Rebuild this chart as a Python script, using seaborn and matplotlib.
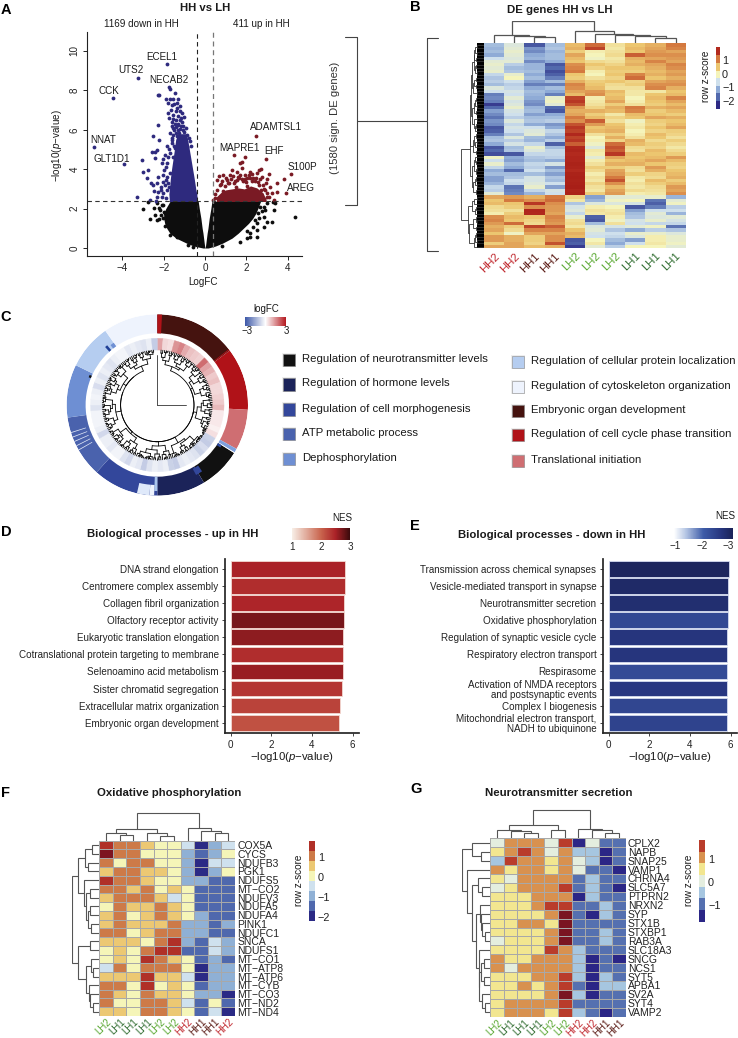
import numpy as np
import pandas as pd
import seaborn as sns
import matplotlib
matplotlib.use('Agg')
import matplotlib.pyplot as plt
from matplotlib.cm import ScalarMappable
from matplotlib.colors import BoundaryNorm, LinearSegmentedColormap, ListedColormap, Normalize
from matplotlib.patches import Rectangle

# ---- panel A: volcano, single points, dense parts as outlines ----
BLUE_X = [-1.82, -3.25, -4.43, -5.35, -3.91, -1.74, -1.71, -2.21, -2.29, -1.45, -1.91, -1.7, -1.53, -1.29, -1.81, -1.62,
          -1.37, -1.21, -1.78, -1.53, -1.13, -1.0, -1.42, -1.62, -1.21, -2.26, -2.5, -2.23, -2.31, -2.55, -2.42, -3.05,
          -2.42, -2.02, -2.08, -1.99, -2.78, -2.99, -2.83, -2.62, -2.34, -2.5, -2.26, -2.02, -2.13, -2.26, -2.02, -3.31,
          -2.67, -2.37, -1.86, -1.78, -1.7, -1.86, -1.7, -1.62, -1.7, -1.53, -1.29, -1.15, -1.4, -1.05, -1.25, -1.6,
          -1.35, -1.1, -0.95, -1.48, -1.3, -1.18, -0.85, -1.55, -1.45, -1.85, -1.75, -1.9,
          -1.5, -1.35, -1.65, -1.4, -1.2, -1.55, -1.72, -1.3, -1.1, -1.45, -1.6, -1.3, -1.05, -0.9, -1.5, -1.2, -1.0,
          -0.85, -0.8, -0.75, -0.7, -1.55, -1.42, -1.6, -1.85, -1.75, -1.8, -1.95, -1.9, -2.05, -1.95, -2.15, -2.1,
          -1.9, -2.3, -2.45]
BLUE_Y = [9.32, 8.61, 7.63, 5.11, 4.25, 8.16, 8.05, 7.78, 7.75, 7.87, 7.55, 7.55, 7.58, 7.56, 7.34, 7.26,
          7.38, 7.21, 6.84, 6.75, 6.84, 6.67, 6.5, 6.41, 6.5, 6.24, 5.69, 5.48, 4.97, 4.89, 4.89, 4.45,
          4.55, 4.5, 4.3, 3.96, 3.96, 3.84, 3.54, 3.32, 3.32, 3.2, 3.62, 3.37, 2.94, 2.86, 2.77, 2.6,
          2.44, 2.39, 2.94, 3.28, 3.79, 4.3, 4.8, 5.31, 5.82, 6.07, 5.99, 6.2, 6.15, 6.0, 5.85, 5.6,
          5.7, 5.6, 5.55, 5.2, 6.3, 6.6, 5.1, 4.6, 5.05, 3.6, 3.1, 3.45,
          7.3, 7.1, 7.0, 6.95, 6.95, 6.55, 6.6, 6.7, 6.4, 6.3, 6.2, 6.25, 6.2, 6.1, 6.0, 6.05, 5.9,
          5.75, 5.6, 5.45, 5.2, 5.75, 5.85, 5.5, 5.2, 5.0, 4.6, 4.7, 4.1, 3.7, 3.2, 3.1, 2.6,
          2.55, 2.6, 2.9]
RED_X = [2.47, 1.39, 1.92, 2.94, 4.15, 3.81, 3.46, 3.91, 3.46, 3.25, 3.07, 2.71, 2.63, 1.78, 1.7, 1.29, 1.53, 1.78,
         2.18, 2.5, 2.75, 2.99, 3.15, 2.91, 0.65, 0.89, 1.21, 0.57, 1.37, 1.94, 2.34, 2.99, 2.83, 3.31, 0.48, 0.4,
         1.05, 1.6, 2.05, 2.28, 1.15, 0.75, 1.45, 1.85, 2.6, 2.4, 2.1, 1.65, 0.95, 2.7,
         0.7, 1.0, 1.1, 1.25, 1.4, 1.55, 1.7, 1.8, 1.95, 2.0, 2.15, 2.25, 2.45, 2.55, 2.65, 2.8, 2.85, 3.0, 3.1, 0.6,
         0.85, 0.5, 2.95, 1.5, 2.05, 0.8]
RED_Y = [5.7, 4.74, 4.64, 4.53, 3.77, 3.52, 3.28, 2.77, 2.86, 2.77, 3.76, 3.99, 3.96, 4.35, 4.3, 3.96, 3.87, 4.04,
         3.84, 3.79, 3.62, 3.49, 3.11, 2.94, 3.65, 3.71, 3.71, 3.45, 3.65, 3.71, 3.54, 2.6, 2.49, 2.44, 2.52, 2.44,
         3.45, 3.6, 3.55, 3.75, 3.3, 3.25, 3.4, 3.38, 3.2, 3.4, 3.7, 3.55, 3.15, 2.95,
         3.2, 3.55, 3.3, 3.5, 3.3, 3.45, 3.7, 3.5, 3.5, 3.35, 3.55, 3.4, 3.55, 3.35, 3.5, 3.2, 3.0, 2.8, 2.6, 2.95,
         2.9, 2.75, 3.3, 3.1, 3.15, 3.4]
BLACK_X = [4.36, 3.31, 3.39, 3.28, 2.83, 2.99, 3.23, 2.83, 2.5, 2.02, 1.7, 0.81, -2.99, -2.42, -2.21, -2.67, -2.34, -1.86,
           -1.94, -2.18, -2.47, -2.34, -2.1, -2.75, -1.7, -1.37, -1.53, -0.81, -0.57, 2.5, 2.5, 2.18, 2.58, 2.67, 2.99, 2.91, 2.18,
           2.75, 2.85, 2.4, 2.62, 2.3, 2.05, -2.05, -2.0, -2.15, -1.95, -2.25, -2.05]
BLACK_Y = [1.59, 1.93, 2.27, 2.32, 1.59, 1.34, 1.34, 1.08, 0.58, 0.49, 0.32, 0.1, 1.96, 1.68, 1.47, 1.47, 1.42, 1.34,
           1.76, 1.93, 2.01, 2.27, 2.18, 2.35, 0.66, 0.58, 0.74, 0.15, 0.07, 1.25, 0.91, 0.74, 1.76, 2.1, 2.27, 1.93, 0.58,
           1.9, 2.1, 1.4, 1.5, 1.05, 0.85, 2.2, 1.85, 1.65, 1.1, 2.05, 1.5]
MASS_Y = [0, 0.1, 0.25, 0.5, 0.75, 1, 1.25, 1.5, 1.75, 2, 2.36]
BLACK_LEFT = [-0.1, -0.55, -0.9, -1.4, -1.7, -1.85, -1.95, -2.0, -2.0, -1.9, -1.7]
BLACK_INNER_L = [0, -0.02, -0.04, -0.07, -0.1, -0.14, -0.17, -0.2, -0.24, -0.28, -0.33]
BLACK_INNER_R = [0, 0.02, 0.04, 0.07, 0.1, 0.14, 0.17, 0.2, 0.24, 0.28, 0.33]
BLACK_RIGHT = [0.15, 0.5, 0.85, 1.3, 1.6, 1.85, 2.1, 2.3, 2.45, 2.55, 2.68]
BLUE_MASS_Y = [2.36, 2.75, 3, 3.5, 4, 4.5, 5, 5.5, 5.8]
BLUE_MASS_L = [-1.72, -1.75, -1.72, -1.68, -1.62, -1.55, -1.48, -1.42, -1.3]
BLUE_MASS_R = [-0.37, -0.4, -0.45, -0.52, -0.6, -0.68, -0.76, -0.84, -0.9]
RED_MASS_X = [0.55, 0.8, 1.0, 1.3, 1.6, 1.9, 2.2, 2.5, 2.8, 2.95]
RED_MASS_TOP = [2.6, 2.85, 2.95, 3.0, 3.05, 3.0, 3.15, 3.05, 2.8, 2.45]
GENE_NAMES = ['ECEL1', 'UTS2', 'NECAB2', 'CCK', 'NNAT', 'GLT1D1', 'ADAMTSL1', 'MAPRE1', 'EHF', 'S100P', 'AREG']
GENE_X = [-2.1, -3.59, -1.76, -4.67, -4.93, -4.52, 3.44, 1.65, 3.34, 4.7, 4.62]
GENE_Y = [9.68, 9.05, 8.51, 7.97, 5.5, 4.53, 6.14, 5.08, 4.91, 4.13, 3.06]

# ---- panel B: row z-scores, groups of rows from the picture ----
B_SAMPLES = ['HH2', 'HH2', 'HH1', 'HH1', 'LH2', 'LH2', 'LH2', 'LH1', 'LH1', 'LH1']
B_Z = [
    [-1.0, -.4, -2.0, -1.0, .8, 1.5, .3, .7, .9, 1.4],
    [-1.1, -.3, -1.4, -.9, .9, 1.8, .2, .8, 1.0, 1.3],
    [-1.0, -.2, -1.5, -1.1, .6, .1, .3, .7, 1.1, 1.0],
    [-1.2, -.3, -1.2, -1.0, 1.0, .0, .4, 1.6, 1.2, 1.2],
    [-.6, -.4, -1.1, -1.0, .8, -.1, .2, .9, 1.0, 1.1],
    [-.3, -.3, -1.5, -1.2, .7, .4, .3, .8, 1.3, 1.0],
    [-.2, -.8, -1.1, -2.0, 1.2, .7, .5, .9, 1.0, 1.3],
    [-.3, -1.0, -1.1, -1.8, 1.3, .5, .7, .7, .9, 1.2],
    [-.2, -.9, -1.0, -2.1, 1.4, .1, .6, .6, .8, 1.0],
    [-.7, -.2, -1.2, -1.9, .7, .0, .7, 1.3, .9, 1.1],
    [-.9, 0, -1.0, -1.6, .6, .3, .5, 1.5, .7, .9],
    [-.8, -.6, -1.3, -1.0, .9, .6, .7, .5, 1.0, 1.1],
    [-1.0, -.8, -1.6, -1.6, 1.3, .7, .4, .6, 1.2, 1.2],
    [-.4, -.7, -1.2, -1.0, 1.2, .8, .3, .3, 1.3, .9],
    [-.6, -.5, -1.0, -1.2, 1.0, 1.1, .8, .2, .2, .7],
    [-1.6, -.6, -1.1, -1.6, .8, 1.2, .7, .2, .7, .8],
    [-1.5, -.3, -1.2, -.2, 1.8, .1, .8, 0, .8, 1.3],
    [-1.6, -.5, -1.4, -.1, 1.9, .2, 1.0, .1, .7, 1.0],
    [-2.3, -.4, -1.5, -.3, 1.7, .3, .6, .3, .6, .8],
    [-1.8, -.2, -1.1, -1.8, 1.1, .5, .9, 1.4, .9, 1.0],
    [-1.3, -.5, -1.0, -2.0, .9, .9, .8, 1.3, .6, .8],
    [-1.5, -.6, -1.3, -1.2, 1.0, .6, .2, .8, .7, .6],
    [-1.7, -.8, -1.0, -1.0, 1.4, .8, .5, .7, 1.0, .9],
    [-1.4, -.4, -.9, -.8, 1.2, 1.6, .3, -.1, .6, .7],
    [-1.5, -.7, -1.2, -1.4, 1.7, 1.1, .7, .1, .5, .8],
    [-2.0, -.5, -.6, -1.2, 1.9, .7, .8, .2, .7, 1.0],
    [-1.9, -.6, -.4, -.7, 1.8, .8, .9, .0, .5, .6],
    [-1.6, -.9, -.3, -.9, 2.1, .3, .6, .1, .8, .5],
    [-1.0, -.4, -1.0, -1.2, 1.8, .0, .9, .3, .7, .3],
    [-.9, -.8, -1.1, -.8, 1.9, .1, .5, .9, .4, .6],
    [-1.2, -.5, -.7, -1.9, 1.6, -.1, 1.5, .8, .6, .4],
    [-2.0, -1.0, -.2, -1.0, 2.1, -.4, 1.7, .4, .5, .2],
    [-1.8, -.9, -.4, -.7, 2.3, .2, 1.6, .3, .8, .4],
    [-2.1, -2.0, -.7, -.7, 2.0, .1, 1.9, .8, .7, .6],
    [-.1, -1.2, -.9, -.8, 2.2, -.3, 1.0, .7, .8, 1.1],
    [-.6, -1.3, -1.0, -1.2, 2.2, .1, .7, .8, 1.0, .8],
    [-.2, -1.0, -.7, -.5, 2.4, .3, .9, .9, .7, .6],
    [-.7, -1.2, -.8, -1.4, 2.3, .6, .6, .4, 1.1, .5],
    [-1.2, -1.8, -.6, -1.0, 2.0, .4, 1.0, .3, .9, .7],
    [-1.0, -1.0, -1.0, -1.3, 2.4, .1, 1.1, .6, .5, .8],
    [-1.3, -.9, -.5, -.9, 2.5, .3, 1.4, .2, .4, .9],
    [-1.3, -.6, -.5, -1.0, 2.4, .2, 1.7, .1, .8, .6],
    [-1.1, -.7, -.4, -.6, 2.5, .5, 1.2, .3, .6, .8],
    [-.7, -1.7, -.2, -1.3, 2.6, .3, .8, .2, .4, 1.1],
    [-.8, -1.6, -.7, -.5, 2.3, .2, 1.0, .4, .3, 1.0],
    [-.3, -1.5, -1.1, -.6, 2.4, .6, 1.1, .1, .2, 1.2],
    [1.0, 1.1, .9, 1.4, .5, -1.3, -.3, -.3, -.2, -1.1],
    [.7, 1.4, 1.2, 1.5, .2, -1.1, -.1, .0, -1.7, -.3],
    [.8, .7, 1.9, 1.2, -.9, -.4, -.4, -.5, -1.9, -.1],
    [.4, .6, 1.2, 1.1, -.5, .1, .0, -2.0, -1.6, -.8],
    [.3, .3, 2.2, 1.1, -.4, .3, .2, -1.3, -.6, -.6],
    [.1, .6, 2.1, 1.0, -.7, .2, .3, -1.0, -.3, -1.1],
    [1.2, .8, .7, 1.3, -.2, -1.9, .1, -.9, -.4, -.3],
    [1.3, .7, .5, 1.2, .3, -2.0, -.1, -.5, -.2, -.5],
    [1.1, 1.5, .4, 1.1, .4, -1.0, .3, -.6, -.7, -.7],
    [.9, .6, 1.8, 1.6, .2, -.4, -.5, -.3, -.1, -1.7],
    [1.0, .4, 1.3, 1.3, .7, -.3, -.9, -1.2, -.8, -.9],
    [.7, -.1, 1.0, 1.0, .9, -.5, -.6, -.2, -.2, -.4],
    [1.1, .9, .6, 1.2, .8, -.6, -.7, -.4, .1, -.2],
    [1.1, .9, .6, 1.2, -2.0, .0, -1.0, -1.3, .1, -.2],
    [.6, 1.0, .5, 1.7, -1.9, .2, -1.2, -.6, .2, -.1],
    [1.0, 1.0, .8, .9, -2.3, -.3, -.8, .0, .0, -.3],
]
B_COL_GAPS = [25, 22, 18, 67, 38, 27, 25, 22, 16]
B_ROW_GAPS = [20, 28, 22, 30, 24, 32, 26, 28, 22, 36, 24, 30, 26, 34, 22, 40, 24, 28, 22, 30, 26, 38, 22, 30, 24,
              28, 42, 26, 30, 22, 28, 34, 24, 44, 28, 24, 30, 22, 26, 36, 24, 28, 22, 34, 26,
              70, 22, 30, 36, 24, 28, 48, 26, 22, 34, 26, 46, 24, 28, 22, 30]

# ---- panel C: circular GO tree ----
C_TERMS = ['Regulation of neurotransmitter levels', 'Regulation of hormone levels', 'Regulation of cell morphogenesis',
           'ATP metabolic process', 'Dephosphorylation', 'Regulation of cellular protein localization',
           'Regulation of cytoskeleton organization', 'Embryonic organ development',
           'Regulation of cell cycle phase transition', 'Translational initiation']
C_COLORS = ['#111111', '#1b2359', '#33479b', '#4a62ad', '#6e8fd3', '#b5cdf0', '#eef3fd', '#45130f', '#b01218', '#cf6e72']
C_START = [122, 149, 180, 222, 262, 296, 325, 0, 53, 93]
C_END = [149, 180, 222, 262, 296, 325, 360, 53, 93, 119]
SLIVER_START = [0, 119, 121.5, 122, 146, 180, 182, 185, 240, 243, 246, 249, 252, 292, 318, 322, 52]
SLIVER_END = [3, 121.5, 122, 124, 151, 182, 185, 193, 240.5, 243.5, 246.5, 249.5, 252.5, 294, 320, 325, 52.6]
SLIVER_LOW = [71.7, 71.7, 71.7, 71.7, 73, 72, 80, 80, 75, 75, 75, 75, 75, 71.7, 71.7, 71.7, 71.7]
SLIVER_HIGH = [90.7, 90.7, 90.7, 76, 80, 86, 90.7, 90.7, 90.7, 90.7, 90.7, 90.7, 90.7, 74, 78, 76, 90.7]
SLIVER_COLORS = ['#b01218', '#7fa0dd', '#ffffff', '#2d4aa0', '#33479b', '#a9c5ec', '#eef3fd', '#dfe9fa', '#e5ecf9', '#e5ecf9',
                 '#e5ecf9', '#e5ecf9', '#e5ecf9', '#111111', '#1f3f96', '#6e8fd3', '#b01218']
C_LOGFC = [1.2, .5, .4, 1.4, 1.6, 1.1, .8, .7, .6, 1.9, 1.2, 1.0, .7, .8, .5, .5, .6, .7, .9, .3, .3, .3, .2, .4,
           -.8, -.9, -.6, -.8, -.5, -.4, -.3, -.4, -.9, -.8, -.3, -.4, -.3, -.5, -.9, -.4, -.3, -.7, -.5, -.2, -.2, -.4,
           -.3, -.3, -.7, -.3, -.2, -.2, -.2, -.5, -.3, -.2, -.3, -.6, -.3, -.5, -.3, -.4, -.5, -.3, -.2, -.2, -.4, -.3,
           -.4, -.5, -.3, -.9]
C_TREE_GAPS = [3, 7, 2, 1, 10, 4, 2, 14, 3, 6, 2, 1, 9, 5, 2, 12, 3, 1, 6, 2, 18.3,
               2, 5, 3, 1, 8, 2, 13, 4, 1, 7, 3, 2, 16, 2, 6, 3, 1, 10, 5, 2, 3, 18.3,
               3, 9, 2, 1, 5, 11, 3, 7, 2, 1, 15, 4, 8, 2, 1, 6, 3, 1, 1, 2, 1, 18.3,
               1, 2, 1, 2, 1, 4, 2, 1, 3, 1, 10, 4, 1, 7, 3, 2, 12, 1, 2, 1, 4, 18.3,
               4, 8, 2, 1, 5, 14, 3, 1, 6, 2, 10, 3, 1, 2, 1, 6, 1, 2, 1, 3, 18.3,
               2, 6, 3, 1, 11, 4, 2, 8, 2, 1, 16, 3, 7, 2, 1, 5, 9, 2, 3, 1, 18.3,
               3, 5, 2, 1, 9, 4, 2, 13, 2, 1, 6, 3, 8, 1, 2, 10, 1, 3, 1, 2, 18.3,
               2, 7, 3, 1, 5, 12, 4, 8, 2, 1, 6, 15, 3, 5, 1, 2, 9, 2, 1, 3, 18.3,
               3, 6, 2, 1, 10, 4, 7, 3, 1, 13, 2, 5, 1, 8, 3, 2, 1, 4, 2]
C_STEM_ANGLE = [0, 90]
C_STEM_LEN = [50, 28.3]

# ---- panels D and E: enrichment bars ----
D_TERMS = ['DNA strand elongation', 'Centromere complex assembly', 'Collagen fibril organization',
           'Olfactory receptor activity', 'Eukaryotic translation elongation',
           'Cotranslational protein targeting to membrane', 'Selenoamino acid metabolism',
           'Sister chromatid segregation', 'Extracellular matrix organization', 'Embryonic organ development']
D_P = [5.64, 5.61, 5.59, 5.59, 5.54, 5.52, 5.52, 5.48, 5.39, 5.33]
D_NES = [2.5, 2.42, 2.47, 2.72, 2.63, 2.42, 2.58, 2.35, 2.25, 2.15]
E_TERMS = ['Transmission across chemical synapses', 'Vesicle-mediated transport in synapse', 'Neurotransmitter secretion',
           'Oxidative phosphorylation', 'Regulation of synaptic vesicle cycle', 'Respiratory electron transport',
           'Respirasome', 'Activation of NMDA receptors\nand postsynaptic events', 'Complex I biogenesis',
           'Mitochondrial electron transport,\nNADH to ubiquinone']
E_P = [5.9, 5.88, 5.85, 5.85, 5.84, 5.84, 5.84, 5.82, 5.8, 5.8]
E_NES = [-3.1, -3.0, -2.9, -2.4, -2.75, -2.75, -2.35, -2.7, -2.45, -2.5]

# ---- panels F and G: gene heatmaps, one letter per colour class ----
F_SAMPLES = ['LH2', 'LH1', 'LH1', 'LH1', 'LH2', 'LH2', 'HH2', 'HH1', 'HH1', 'HH2']
F_GENES = ['COX5A', 'CYCS', 'NDUFB3', 'PGK1', 'NDUFS5', 'MT−CO2', 'NDUFV3', 'NDUFA5', 'NDUFA4', 'PINK1', 'NDUFC1', 'SNCA',
           'NDUFS1', 'MT−CO1', 'MT−ATP8', 'MT−ATP6', 'MT−CYB', 'MT−CO3', 'MT−ND2', 'MT−ND4']
F_ROWS = ['ROOAYYPNLP', 'MOOYYYLBLY', 'OYOOYYLNPP', 'AOOAAYLNLY', 'ROOAYYLLBB', 'OOAOYAYBBB', 'AOOOAPYBBB',
          'YOAAOAYBBB', 'AOYAOAYLBB', 'AOAAAOLLBL', 'OOYAOOLLBB', 'AAAYORLBPL', 'YAYORRBBPL', 'YAYROAYBLB',
          'POYOOOYNLL', 'AAARAAPNLL', 'OOYRYAYBLL', 'OAYOAAYLLN', 'OYYOOAPBYB', 'AAYOOAYBPN']
F_LEVELS = {'N': -2, 'B': -1.5, 'L': -1, 'P': -.5, 'Y': 0, 'A': .5, 'O': 1, 'R': 1.5, 'M': 2}
F_COLORS = ['#2b2a85', '#4f68ad', '#8fb0d5', '#cfe1ee', '#f5f5b8', '#ecc873', '#cd7a48', '#b03028']
F_BOUNDS = [-2.2, -1.7, -1.2, -.7, -.2, .3, .8, 1.3, 1.8]
F_COL_GAPS = [25, 16, 35, 25, 14, 85, 40, 30, 25]
F_ROW_GAPS = [23, 43, 35, 66, 48, 27, 40, 30, 36, 24, 83, 30, 66, 25, 18, 42, 32, 28, 20]

G_SAMPLES = ['LH2', 'LH1', 'LH1', 'LH1', 'LH2', 'LH2', 'HH2', 'HH2', 'HH1', 'HH1']
G_GENES = ['CPLX2', 'NAPB', 'SNAP25', 'VAMP1', 'CHRNA4', 'SLC5A7', 'PTPRN2', 'NRXN2', 'SYP', 'STX1B', 'STXBP1', 'RAB3A',
           'SLC18A3', 'SNCG', 'NCS1', 'SYT5', 'APBA1', 'SV2A', 'SYT4', 'VAMP2']
G_ROWS = ['POOOPRNPBB', 'YOROPOLLNB', 'LROOYOPLNB', 'OYOOYOPBBN', 'YPOOOOBLBB', 'PYOOORBLBN', 'YYYOOONLBB',
          'YYYORRBBLB', 'YYYYOMBNLB', 'YYOOYMBBBB', 'YYYYOMBBLB', 'PYYYOMBBLB', 'YYYYROLBBB', 'OYYOOOLNBN',
          'OPOOOOLNBB', 'YYYOORLNLB', 'YYOYORBNLL', 'YYYYOMLNBB', 'YOOOORBBBB', 'YOOOYRLBNB']
G_LEVELS = {'N': -1.5, 'B': -1, 'L': -.5, 'P': 0, 'Y': .5, 'O': 1, 'R': 1.5, 'M': 2}
G_COLORS = ['#2b2686', '#5570b0', '#a6c6e0', '#e4eedf', '#f2e690', '#d8914f', '#b93c2b']
G_BOUNDS = [-1.7, -1.2, -.7, -.2, .3, .8, 1.3, 1.8]
G_COL_GAPS = [25, 22, 15, 40, 25, 87, 27, 25, 15]
G_ROW_GAPS = [56, 30, 86, 71, 38, 25, 55, 32, 28, 24, 15, 45, 35, 18, 30, 18, 35, 25, 15]

SAMPLE_COLORS = {'HH2': '#c0272d', 'HH1': '#5a1a14', 'LH2': '#5aa832', 'LH1': '#2e6b2e'}
W, H = 738, 1038

sns.set_theme(style='white')
plt.rcParams['font.family'] = ['Liberation Sans', 'DejaVu Sans']
plt.rcParams['mathtext.fontset'] = 'custom'
plt.rcParams['mathtext.rm'] = 'Liberation Sans'
plt.rcParams['mathtext.it'] = 'Liberation Sans:italic'
plt.rcParams['text.color'] = '#1a1a1a'
plt.rcParams['xtick.color'] = '#222222'
plt.rcParams['ytick.color'] = '#222222'
FS = 7.1
TITLE = 8.2
PVALUE = '−log10($\\mathit{p}$−value)'

fig = plt.figure(figsize=(W / 100, H / 100), dpi=100)


def axpx(x0, y0, x1, y1, **kw):
    # axes from pixel box, y measured from the top
    return fig.add_axes([x0 / W, 1 - y1 / H, (x1 - x0) / W, (y1 - y0) / H], **kw)


ov = axpx(0, 0, W, H)
ov.set_xlim(0, W)
ov.set_ylim(H, 0)
ov.axis('off')
ov.set_zorder(5)


def tx(x, y, s, size=FS, ha='center', va='center', **kw):
    ov.text(x, y, s, fontsize=size, ha=ha, va=va, **kw)


def tree_links(gaps, lo=0, hi=None, out=None):
    # gaps[i] is the merge height between neighbouring leaves i and i+1
    if hi is None:
        hi = len(gaps)
    if lo == hi:
        return lo + 0.5, 0
    k = lo + int(np.argmax(gaps[lo:hi]))
    pa, ha = tree_links(gaps, lo, k, out)
    pb, hb = tree_links(gaps, k + 1, hi, out)
    out.append((pa, ha, pb, hb, gaps[k]))
    return (pa + pb) / 2, gaps[k]


def draw_tree(ax, gaps, side, color='#555555', lw=0.8):
    links = []
    tree_links(gaps, out=links)
    for pa, ha, pb, hb, h in links:
        pos = [pa, pa, pb, pb]
        hgt = [ha, h, h, hb]
        if side == 'top':
            ax.plot(pos, hgt, color=color, lw=lw, solid_joinstyle='miter')
        else:
            ax.plot(hgt, pos, color=color, lw=lw, solid_joinstyle='miter')
    ax.axis('off')
    n = len(gaps) + 1
    if side == 'top':
        ax.set_xlim(0, n)
        ax.set_ylim(0, max(gaps) * 1.02)
    else:
        ax.set_ylim(n, 0)
        ax.set_xlim(max(gaps) * 1.02, 0)


def color_labels(ax, samples, size, pad=2):
    ax.set_xticklabels(samples, rotation=45, ha='right', rotation_mode='anchor', fontsize=size)
    for lab, s in zip(ax.get_xticklabels(), samples):
        lab.set_color(SAMPLE_COLORS[s])
    ax.tick_params(axis='x', length=0, pad=pad)


# panel A
ax = axpx(86.7, 32, 301.7, 255.7)
ax.fill_betweenx(MASS_Y, BLACK_LEFT, BLACK_INNER_L, color='#0d0d0d', lw=0)
ax.fill_betweenx(MASS_Y, BLACK_INNER_R, BLACK_RIGHT, color='#0d0d0d', lw=0)
ax.fill_betweenx(BLUE_MASS_Y, BLUE_MASS_L, BLUE_MASS_R, color='#2e2a7e', lw=0)
ax.fill_between(RED_MASS_X, 2.36, RED_MASS_TOP, color='#7a1a24', lw=0)
for xs, ys, col in [(BLACK_X, BLACK_Y, '#0d0d0d'), (BLUE_X, BLUE_Y, '#2e2a7e'), (RED_X, RED_Y, '#7a1a24')]:
    sns.scatterplot(x=xs, y=ys, color=col, s=7.5, linewidth=0, ax=ax, legend=False)
ax.axhline(2.36, color='#333333', lw=0.8, ls=(0, (4, 3)))
ax.axvline(-0.37, color='#222222', lw=0.8, ls=(0, (4, 3)))
ax.axvline(0.38, color='#777777', lw=0.9, ls=(0, (4, 3)))
ax.set_xlim(-5.72, 4.67)
ax.set_ylim(-0.39, 10.96)
ax.set_xticks([-4, -2, 0, 2, 4])
ax.set_yticks([0, 2, 4, 6, 8, 10])
ax.tick_params(left=True, bottom=True, length=3, width=0.7, labelsize=FS, pad=2)
plt.setp(ax.get_yticklabels(), rotation=90, va='center')
sns.despine(ax=ax)
for s in ['left', 'bottom']:
    ax.spines[s].set_linewidth(0.8)
    ax.spines[s].set_color('#222222')
for name, x, y in zip(GENE_NAMES, GENE_X, GENE_Y):
    ax.text(x, y, name, fontsize=FS, ha='center', va='center', clip_on=False)
ax.patch.set_alpha(0)
tx(205, 8, 'HH vs LH', size=TITLE, fontweight='bold')
tx(141, 24, '1169 down in HH')
tx(261, 24, '411 up in HH')
tx(203, 282, 'LogFC')
tx(57, 146, PVALUE, rotation=90)

# brackets between A and B
LINE = '#444444'
ov.plot([345, 357.3, 357.3, 345], [37, 37, 205, 205], color=LINE, lw=0.8)
ov.plot([357.3, 426.7], [120.7, 120.7], color=LINE, lw=0.8)
ov.plot([438.3, 426.7, 426.7, 438.3], [37.7, 37.7, 251.3, 251.3], color=LINE, lw=0.8)
tx(335, 117.5, '(1580 sign. DE genes)', size=8.1, rotation=90, color='#333333')

# panel B
B_STOPS = [(-2.5, '#2d2a84'), (-1.8, '#5269ad'), (-1.2, '#8fabd6'), (-.6, '#cfe0ec'), (0, '#f5f4bb'),
           (.7, '#ecc670'), (1.4, '#d4793f'), (2.0, '#b22a1e'), (2.6, '#a81f17')]
b_cmap = LinearSegmentedColormap.from_list('b_z', [((v + 2.5) / 5.1, c) for v, c in B_STOPS])
ax = axpx(484, 43.3, 685.7, 248.3)
sns.heatmap(np.array(B_Z), cmap=b_cmap, vmin=-2.5, vmax=2.6, cbar=False, ax=ax, yticklabels=False, xticklabels=True)
color_labels(ax, B_SAMPLES, 8.2)
draw_tree(axpx(484, 21, 685.7, 43.3), B_COL_GAPS, 'top', lw=0.9)
t = axpx(460.7, 43.3, 484, 248.3)
draw_tree(t, B_ROW_GAPS, 'left', color='#333333', lw=0.6)
t.axvspan(0, 20 * 1.02, color='black', lw=0)
tx(560, 10, 'DE genes HH vs LH', size=TITLE, fontweight='bold')
tx(705.7, 76.7, 'row z-score', size=7.2, rotation=90)
cax = axpx(715.7, 46.7, 720, 108.7)
b_bounds = [-2.56, -2.0, -1.45, -.9, -.35, .2, .75, 1.35, 1.95]
b_levels = ['#2d2a84', '#5269ad', '#8fabd6', '#cfe0ec', '#f5f4bb', '#ecc670', '#d4793f', '#b22a1e']
cb = fig.colorbar(ScalarMappable(BoundaryNorm(b_bounds, 8), ListedColormap(b_levels)), cax=cax, ticks=[-2, -1, 0, 1, 2],
                  spacing='proportional')
cb.outline.set_linewidth(0)
cb.minorticks_off()
cb.ax.tick_params(which='both', length=0, labelsize=FS + 0.7, pad=1.5)

# panel C
R0 = 90.7
ax = axpx(157.3 - R0, 405 - R0, 157.3 + R0, 405 + R0, projection='polar')
ax.set_theta_zero_location('N')
ax.set_theta_direction(-1)
ax.bar(np.radians(C_START), 19, width=np.radians(np.subtract(C_END, C_START)), bottom=71.7, align='edge', color=C_COLORS, lw=0)
ax.bar(np.radians(SLIVER_START), np.subtract(SLIVER_HIGH, SLIVER_LOW), width=np.radians(np.subtract(SLIVER_END, SLIVER_START)),
       bottom=SLIVER_LOW, align='edge', color=SLIVER_COLORS, lw=0)
logfc_cmap = LinearSegmentedColormap.from_list('logfc', ['#3c57a8', '#ffffff', '#b4191f'])
logfc_norm = Normalize(-3, 3)
step = 360 / len(C_LOGFC)
ring_colors = logfc_cmap(logfc_norm(C_LOGFC))
ax.bar(np.radians(np.arange(len(C_LOGFC)) * step), 11.7, width=np.radians(step), bottom=55, align='edge',
       color=ring_colors, edgecolor=ring_colors, lw=0.3)
links = []
n_leaf = len(C_TREE_GAPS) + 1
tree_links(C_TREE_GAPS, out=links)
to_theta = lambda p: np.radians(3 + 354 * p / n_leaf)
for pa, ha, pb, hb, h in links:
    arc = np.linspace(to_theta(pa), to_theta(pb), 30)
    ax.plot(np.full(2, to_theta(pa)), [55 - ha, 55 - h], color='black', lw=0.6)
    ax.plot(np.full(2, to_theta(pb)), [55 - hb, 55 - h], color='black', lw=0.6)
    ax.plot(arc, np.full(30, 55 - h), color='black', lw=0.6)
for ang, ln in zip(C_STEM_ANGLE, C_STEM_LEN):
    ax.plot([np.radians(ang)] * 2, [0, ln], color='#333333', lw=0.6)
ax.set_ylim(0, R0)
ax.axis('off')
cax = axpx(245, 317.3, 286, 325.7)
cb = fig.colorbar(ScalarMappable(logfc_norm, logfc_cmap), cax=cax, orientation='horizontal', ticks=[])
cb.outline.set_linewidth(0)
tx(266.7, 309, 'logFC', size=7)
tx(246.7, 331, '−3', size=7)
tx(286.7, 331, '3', size=7)
LEG_Y1 = [360, 384.3, 409.3, 434, 458.7]
LEG_Y2 = [362, 386.7, 410.7, 435, 460.7]
for i, (term, col) in enumerate(zip(C_TERMS, C_COLORS)):
    x, y = (282.7, LEG_Y1[i]) if i < 5 else (511.7, LEG_Y2[i - 5])
    ov.add_patch(Rectangle((x - 1, y - 7), 14.4, 14.4, fc='#eeeeee', ec='none'))
    ov.add_patch(Rectangle((x, y - 6), 12.3, 12.3, fc=col, ec='#888888', lw=0.4))
    tx(x + 19, y - 0.8, term, size=8.2, ha='left')

# panel D
d_cmap = LinearSegmentedColormap.from_list('d_nes', [(0, '#f8f0e8'), (.5, '#c9654e'), (.75, '#ab2227'), (1, '#3a0a0c')])
d_norm = Normalize(1, 3)
ax = axpx(225, 559.3, 358.7, 733.3)
sns.barplot(x=D_P, y=D_TERMS, hue=D_TERMS, palette=[d_cmap(d_norm(v)) for v in D_NES], legend=False, width=0.92,
            edgecolor='#f3d9d2', linewidth=0.6, ax=ax, orient='h', saturation=1)
ax.set_xlim(-0.28, 6.3)
ax.set_ylim(9.62, -0.57)
ax.set_xticks([0, 2, 4, 6])
ax.set_xlabel('')
ax.tick_params(left=True, bottom=True, length=2.5, width=0.6, labelsize=FS, pad=2)
sns.despine(ax=ax)
tx(173, 534, 'Biological processes - up in HH', size=TITLE, fontweight='bold')
tx(292, 757, PVALUE, size=8.2)
tx(342, 518, 'NES')
cax = axpx(291.7, 528.3, 350, 540)
cb = fig.colorbar(ScalarMappable(d_norm, d_cmap), cax=cax, orientation='horizontal', ticks=[1, 2, 3])
cb.outline.set_linewidth(0)
cb.ax.tick_params(length=0, labelsize=FS, pad=1.5)

# panel E
e_cmap = LinearSegmentedColormap.from_list('e_nes', [(0, '#1b2358'), (.2, '#27367f'), (.5, '#3e5ca8'), (.8, '#b5c6e4'), (1, '#ffffff')])
e_norm = Normalize(-3.17, -0.95)
ax = axpx(602.7, 559.3, 736.7, 733.3)
sns.barplot(x=E_P, y=E_TERMS, hue=E_TERMS, palette=[e_cmap(e_norm(v)) for v in E_NES], legend=False, width=0.92,
            edgecolor='#d5dcf0', linewidth=0.6, ax=ax, orient='h', saturation=1)
ax.set_xlim(-0.3, 6.3)
ax.set_ylim(9.62, -0.57)
ax.set_xticks([0, 2, 4, 6])
ax.set_xlabel('')
ax.tick_params(left=True, bottom=True, length=2.5, width=0.6, labelsize=FS, pad=2)
plt.setp(ax.get_yticklabels(), linespacing=1.0)
sns.despine(ax=ax)
tx(552, 535, 'Biological processes - down in HH', size=TITLE, fontweight='bold')
tx(670, 757, PVALUE, size=8.2)
tx(725, 516, 'NES')
cax = axpx(674, 527.7, 732.7, 539.3)
cb = fig.colorbar(ScalarMappable(e_norm, e_cmap), cax=cax, orientation='horizontal', ticks=[-1, -2, -3])
cb.outline.set_linewidth(0)
cb.ax.invert_xaxis()
cb.ax.tick_params(length=0, labelsize=FS, pad=1.5)


def gene_heatmap(rows, levels, genes, samples, colors, bounds, over, box, cbox, ticks):
    df = pd.DataFrame([[levels[c] for c in r] for r in rows], index=genes)
    cmap = ListedColormap(colors)
    cmap.set_over(over)
    ax = axpx(*box)
    cax = axpx(*cbox)
    sns.heatmap(df, cmap=cmap, norm=BoundaryNorm(bounds, len(colors)), linewidths=0.5, linecolor='#a8a8a8', ax=ax, cbar_ax=cax,
                cbar_kws={'ticks': ticks}, xticklabels=True, yticklabels=True)
    ax.yaxis.tick_right()
    ax.set_yticklabels(genes, rotation=0, fontsize=7.5)
    ax.tick_params(axis='y', length=0, pad=1.5)
    color_labels(ax, samples, 7, pad=0.5)
    cbar = ax.collections[0].colorbar
    cbar.minorticks_off()
    cbar.outline.set_linewidth(0)
    cax.tick_params(which='both', length=0, labelsize=FS + 0.7, pad=2)


# panel F
gene_heatmap(F_ROWS, F_LEVELS, F_GENES, F_SAMPLES, F_COLORS, F_BOUNDS, '#7d1420', (99.3, 840.7, 235, 1016),
             (309.3, 840.7, 315, 920.7), [-2, -1, 0, 1])
draw_tree(axpx(99.3, 812.3, 235, 840.7), F_COL_GAPS, 'top')
draw_tree(axpx(71.7, 840.7, 99.3, 1016), F_ROW_GAPS, 'left')
tx(169, 793, 'Oxidative phosphorylation', size=TITLE, fontweight='bold')
tx(299, 880, 'row z-score', size=7.2, rotation=90)

# panel G
gene_heatmap(G_ROWS, G_LEVELS, G_GENES, G_SAMPLES, G_COLORS, G_BOUNDS, '#7a1522', (490.3, 838.3, 625.7, 1016.7),
             (699.3, 840, 705.3, 921.7), [-1, 0, 1])
draw_tree(axpx(490.3, 809.3, 625.7, 838.3), G_COL_GAPS, 'top')
draw_tree(axpx(461.7, 838.3, 490.3, 1016.7), G_ROW_GAPS, 'left')
tx(559, 793, 'Neurotransmitter secretion', size=TITLE, fontweight='bold')
tx(689, 880, 'row z-score', size=7.2, rotation=90)

for letter, x, y in [('A', 6, 10), ('B', 415, 7), ('C', 6, 317), ('D', 6, 532), ('E', 415, 526), ('F', 6, 793), ('G', 416, 789)]:
    tx(x, y, letter, size=10.5, fontweight='bold', color='black')

fig.savefig('out.png', dpi=100)
